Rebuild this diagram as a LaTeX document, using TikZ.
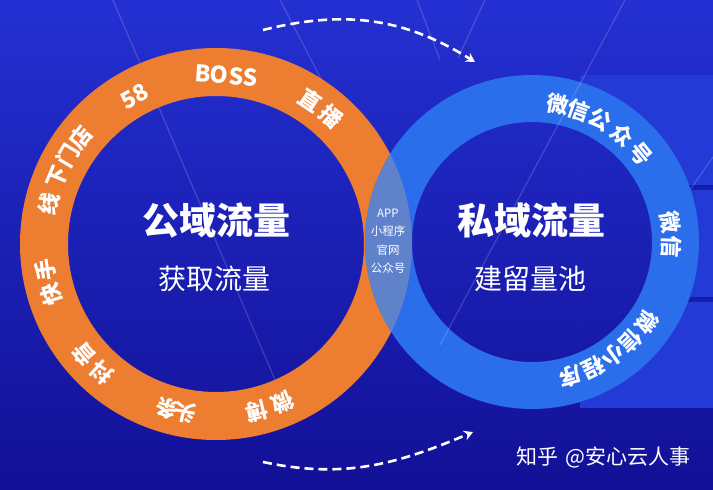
\documentclass[tikz,border=0pt]{standalone}
\usepackage{fontspec}
\setmainfont{Noto Sans CJK SC}
\usetikzlibrary{arrows.meta}
\definecolor{ora}{RGB}{237,125,49}
\definecolor{bring}{RGB}{42,110,236}
\definecolor{lenscol}{RGB}{95,130,202}
\definecolor{bgtop}{RGB}{36,48,210}
\definecolor{bgmid}{RGB}{27,32,192}
\definecolor{bgbot}{RGB}{18,16,150}
\definecolor{panelcol}{RGB}{36,58,214}
\definecolor{stripecol}{RGB}{24,28,172}
\begin{document}
\begin{tikzpicture}[x=1pt,y=1pt,
  lbl/.style={text=white,font=\bfseries\fontsize{22}{22}\selectfont,inner sep=0pt},
  latinlbl/.style={text=white,font=\bfseries\fontsize{23}{23}\selectfont,inner sep=0pt},
  bigtitle/.style={text=white,font=\bfseries\fontsize{37}{37}\selectfont,inner sep=0pt},
  subtitle/.style={text=white,font=\fontsize{28}{28}\selectfont,inner sep=0pt},
  ovtext/.style={text=white,font=\fontsize{11.5}{11.5}\selectfont,inner sep=0pt},
  wmark/.style={text=white,font=\fontsize{21}{21}\selectfont,inner sep=0pt},
  streak/.style={white,opacity=0.17,line width=1.2pt},
  darr/.style={white,line width=2.6pt,dash pattern=on 9pt off 5pt,-{Stealth[length=9pt,width=10pt,inset=3pt]}}
]
\useasboundingbox (0,0) rectangle (713,490);
\shade[top color=bgtop,middle color=bgmid,bottom color=bgbot] (0,0) rectangle (713,490);
\coordinate (O) at (216,246);
\coordinate (B) at (532,248);
% right panels (kept out of the inner circle)
\begin{scope}[even odd rule]
  \clip (580,82) rectangle (713,415) (B) circle (121pt);
  \fill[panelcol] (580,82) rectangle (713,415);
  \fill[stripecol] (580,300) rectangle (713,305);
  \fill[stripecol] (580,188) rectangle (713,193);
\end{scope}
% light streaks (under rings)
\draw[streak] (113,490) -- (290,75);
\draw[streak] (280,490) -- (330,394);
\draw[streak] (417,490) -- (440,430);
\draw[streak] (485,490) -- (458,432);
\draw[streak] (713,333) -- (690,300);
% rings
\fill[ora,even odd rule] (O) circle (196pt) (O) circle (148pt);
\fill[bring,even odd rule] (B) circle (167pt) (B) circle (120pt);
\begin{scope}
  \clip (O) circle (196pt);
  \fill[lenscol] (B) circle (167pt);
\end{scope}
\draw[streak] (625,490) -- (440,145);
% orange ring labels
\node[latinlbl,rotate=-4] (boss) at ([shift={(86.6:169pt)}]O) {BOSS};
\node[latinlbl,rotate=29] (n58) at ([shift={(118.9:169pt)}]O) {58};
\foreach \a/\t/\n in {56.5/直/o1,47.9/播/o2,
  166.4/线/o3,157.2/下/o4,149.2/门/o5,142/店/o6,
  197/快/o7,188.7/手/o8,
  228.2/抖/o9,220/音/o10,
  259.6/头/o11,253.4/条/o12,
  292.7/微/o13,283.9/博/o14}{
  \node[lbl,rotate=\a-90] (\n) at ([shift={(\a:172pt)}]O) {\t};
}
% blue ring labels
\foreach \a/\t/\n in {79.3/微/b1,70.5/信/b2,61/公/b3,50/众/b4,39/号/b5,
  8/微/b6,-2/信/b7,
  -35/微/b8,-45/信/b9,-54.5/小/b10,-64/程/b11,-74/序/b12}{
  \node[lbl,rotate=\a-90] (\n) at ([shift={(\a:140pt)}]B) {\t};
}
% centre titles
\node[bigtitle] (t1) at (216,270) {公域流量};
\node[subtitle] (s1) at (214,211) {获取流量};
\node[bigtitle] (t2) at (531,270) {私域流量};
\node[subtitle] (s2) at (530,211) {建留量池};
% overlap text
\node[ovtext] (v1) at (388,277) {APP};
\node[ovtext] (v2) at (388,259) {小程序};
\node[ovtext] (v3) at (388,240) {官网};
\node[ovtext] (v4) at (388,222) {公众号};
% watermark
\node[wmark,anchor=west] (wm) at (516,33) {知乎\hspace{0.35em}@安心云人事};
% dashed arrows
\coordinate (a1s) at (263,460);
\coordinate (a1e) at (475,428);
\draw[darr] (a1s) to[out=14,in=148] (a1e);
\coordinate (a2s) at (263,28);
\coordinate (a2e) at (473,58);
\draw[darr] (a2s) to[out=-12,in=203] (a2e);
\end{tikzpicture}
\end{document}
